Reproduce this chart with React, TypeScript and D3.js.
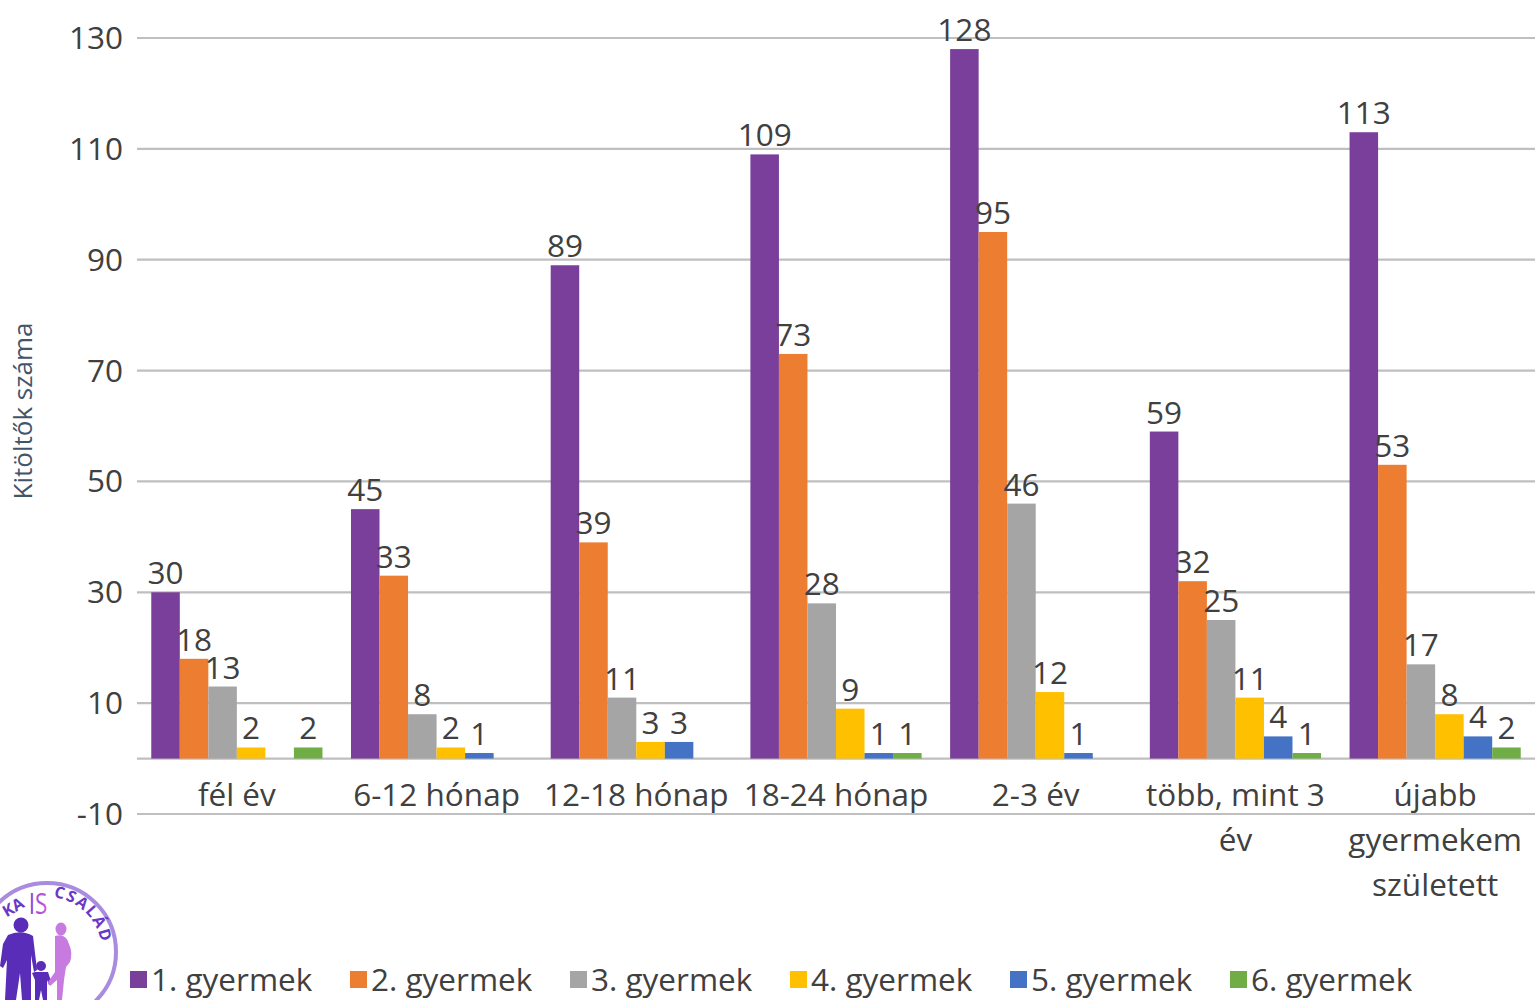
import React from "react";
import * as d3 from "d3";

const categories: string[][] = [
  ["fél év"],
  ["6-12 hónap"],
  ["12-18 hónap"],
  ["18-24 hónap"],
  ["2-3 év"],
  ["több, mint 3", "év"],
  ["újabb", "gyermekem", "született"],
];

const seriesNames = ["1. gyermek", "2. gyermek", "3. gyermek", "4. gyermek", "5. gyermek", "6. gyermek"];
const seriesColors = ["#7A3F9A", "#ED7D31", "#A5A5A5", "#FFC000", "#4472C4", "#70AD47"];

const child1 = [30, 45, 89, 109, 128, 59, 113];
const child2 = [18, 33, 39, 73, 95, 32, 53];
const child3 = [13, 8, 11, 28, 46, 25, 17];
const child4 = [2, 2, 3, 9, 12, 11, 8];
const child5: (number | null)[] = [null, 1, 3, 1, 1, 4, 4];
const child6: (number | null)[] = [2, null, null, 1, null, 1, 2];

const yTicks = [-10, 10, 30, 50, 70, 90, 110, 130];

const W = 1537;
const H = 1000;
const FONT = "'Open Sans', 'Noto Sans', sans-serif";
const FS = 31.5;

export default function App() {
  const series = [child1, child2, child3, child4, child5, child6];
  const catKeys = categories.map((c) => c.join(" "));

  const y = d3.scaleLinear().domain([-10, 130]).range([814, 38]);
  const x0 = d3.scaleBand<string>().domain(catKeys).range([137, 1535]).paddingInner(0).paddingOuter(0);
  const x1 = d3
    .scaleBand<string>()
    .domain(seriesNames)
    .range([0, x0.bandwidth()])
    .paddingInner(0)
    .paddingOuter(0.5);

  const legendX = d3.scaleBand<string>().domain(seriesNames).range([130, 1450]);

  const arcR = 55;
  const a0 = -1.45;
  const a1 = 0.25;

  return (
    <svg
      width={W}
      height={H}
      style={{ position: "absolute", left: 0, top: 0, background: "#fff" }}
      fontFamily={FONT}
    >
      {/* gridlines and tick labels */}
      {yTicks.map((t) => (
        <g key={t}>
          <line x1={137} x2={1535} y1={y(t)} y2={y(t)} stroke="#BFBFBF" strokeWidth={2.2} />
          <text x={123} y={y(t)} dy="0.35em" textAnchor="end" fontSize={FS} fill="#404040">
            {t}
          </text>
        </g>
      ))}
      {/* zero axis */}
      <line x1={137} x2={1535} y1={y(0)} y2={y(0)} stroke="#BFBFBF" strokeWidth={2.2} />

      {/* bars */}
      {catKeys.map((cat, ci) => (
        <g key={cat} transform={`translate(${x0(cat)},0)`}>
          {series.map((vals, si) => {
            const v = vals[ci];
            if (v === null || v === undefined) return null;
            const bx = x1(seriesNames[si])!;
            return (
              <g key={si}>
                <rect
                  x={bx}
                  y={y(v)}
                  width={x1.bandwidth()}
                  height={y(0) - y(v)}
                  fill={seriesColors[si]}
                />
                <text
                  x={bx + x1.bandwidth() / 2}
                  y={y(v) - 8}
                  textAnchor="middle"
                  fontSize={FS}
                  fill="#404040"
                >
                  {v}
                </text>
              </g>
            );
          })}
        </g>
      ))}

      {/* category labels */}
      {categories.map((lines, ci) => (
        <text
          key={ci}
          x={x0(catKeys[ci])! + x0.bandwidth() / 2}
          y={806}
          textAnchor="middle"
          fontSize={FS}
          fill="#404040"
        >
          {lines.map((l, li) => (
            <tspan key={li} x={x0(catKeys[ci])! + x0.bandwidth() / 2} dy={li === 0 ? 0 : 45}>
              {l}
            </tspan>
          ))}
        </text>
      ))}

      {/* y-axis title */}
      <text
        transform="translate(32,411) rotate(-90)"
        textAnchor="middle"
        fontSize={26}
        fill="#44546A"
      >
        Kitöltők száma
      </text>

      {/* legend */}
      {seriesNames.map((s, i) => (
        <g key={s} transform={`translate(${legendX(s)},0)`}>
          <rect x={0} y={971} width={17} height={17} fill={seriesColors[i]} />
          <text x={21} y={991} fontSize={FS} fill="#404040">
            {s}
          </text>
        </g>
      ))}

      {/* logo */}
      <g>
        <circle cx={47} cy={952} r={69} fill="#fff" stroke="#A98BE0" strokeWidth={4} />
        <defs>
          <path
            id="logoArcRight"
            d={`M ${47 + arcR * Math.cos(a0)} ${952 + arcR * Math.sin(a0)} A ${arcR} ${arcR} 0 0 1 ${47 + arcR * Math.cos(a1)} ${952 + arcR * Math.sin(a1)}`}
          />
          <linearGradient id="isGrad" x1="0" x2="1">
            <stop offset="0" stopColor="#7B3FD6" />
            <stop offset="1" stopColor="#D35BD8" />
          </linearGradient>
        </defs>
        <text
          transform="translate(16,912) rotate(-30)"
          fontSize={16}
          fontWeight={700}
          fill="#6A37C8"
          textAnchor="middle"
        >
          KA
        </text>
        <text x={38} y={914} fontSize={30} fill="url(#isGrad)" textAnchor="middle" transform="translate(38,914) scale(0.75,1) translate(-38,-914)">
          IS
        </text>
        <text fontSize={16} fontWeight={700} fill="#6A37C8" letterSpacing={1.5}>
          <textPath href="#logoArcRight">CSALÁD</textPath>
        </text>
        {/* father */}
        <g fill="#5A2DB8">
          <circle cx={21} cy={925} r={7.5} />
          <path d="M 8 935 Q 21 929 33 936 L 37 970 L 34 972 L 31 955 L 31 1000 L 22 1000 L 20 973 L 16 1000 L 5 1000 L 7 960 L 3 968 L 0 966 L 3 944 Z" />
        </g>
        {/* child */}
        <g fill="#5A2DB8">
          <circle cx={41} cy={966} r={5} />
          <path d="M 35 972 L 48 972 L 52 984 L 49 985 L 47 980 L 47 1000 L 43 1000 L 41 990 L 39 1000 L 35 1000 L 35 980 L 32 973 Z" />
        </g>
        {/* mother */}
        <g fill="#C77BE0">
          <ellipse cx={61} cy={929} rx={5.5} ry={6.5} />
          <path d="M 55 936 Q 66 933 69 944 Q 73 953 70 962 L 66 967 L 64 980 L 62 1000 L 57 1000 L 57 980 L 50 986 L 48 982 L 55 972 L 55 955 Z" />
        </g>
      </g>
    </svg>
  );
}
